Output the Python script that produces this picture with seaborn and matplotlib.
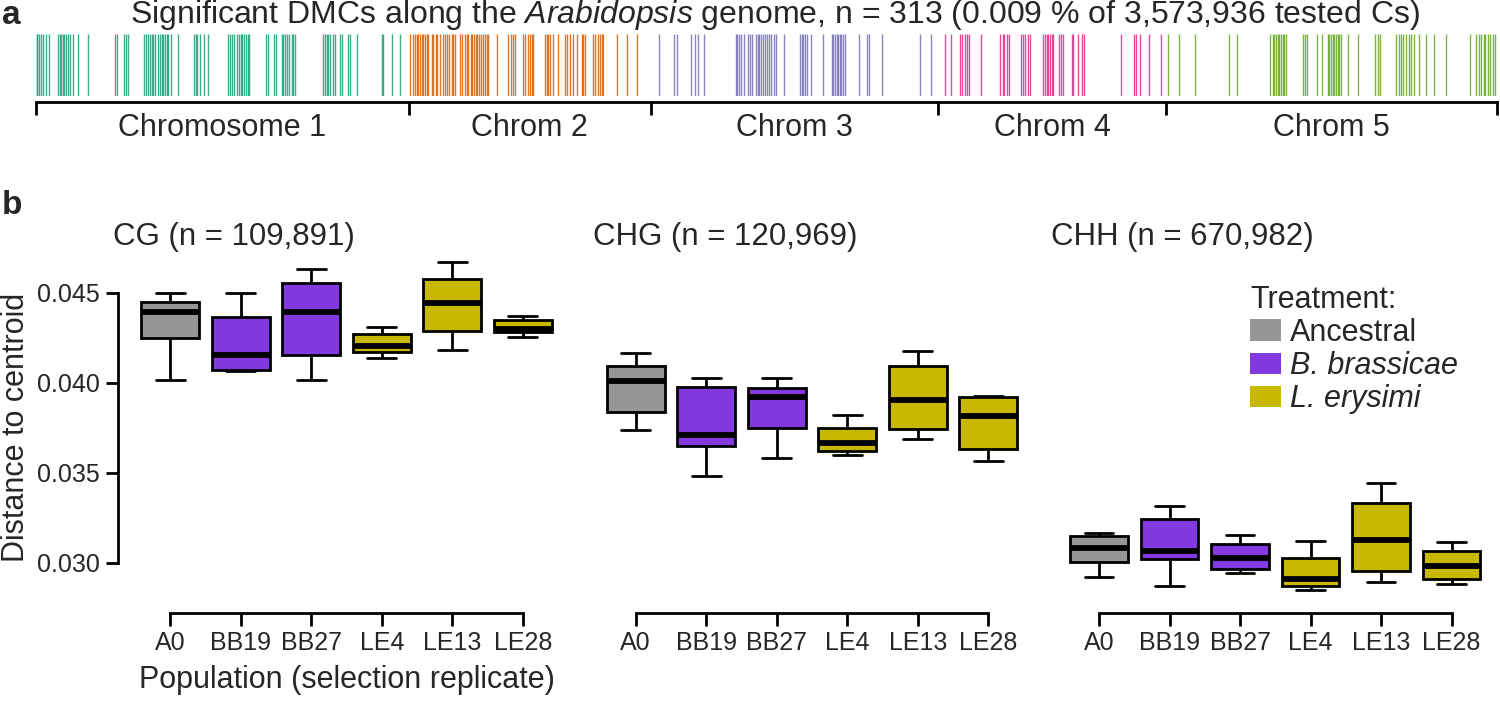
import numpy as np
import pandas as pd
import matplotlib
matplotlib.use('Agg')
import matplotlib.pyplot as plt
import seaborn as sns
from matplotlib.patches import Patch

# ---- panel a: significant DMC positions (Mb from chromosome start) ----
chrom_names = ['Chromosome 1', 'Chrom 2', 'Chrom 3', 'Chrom 4', 'Chrom 5']
chrom_len = [30.43, 19.70, 23.46, 18.59, 26.98]

chr1_mb = [0.08, 0.11, 0.27, 0.44, 0.60, 0.79, 1.03, 1.82, 1.96, 2.04, 2.18, 2.31, 2.45,
           2.58, 2.77, 2.99, 3.40, 4.27, 6.44, 6.58, 7.21, 7.34, 7.53, 8.81, 8.94, 9.16,
           9.30, 9.43, 9.57, 9.71, 9.98, 10.11, 10.25, 10.39, 10.52, 10.66, 10.79, 10.98,
           11.61, 12.89, 13.02, 13.10, 13.38, 13.70, 14.06, 15.63, 15.82, 16.01, 16.18,
           16.37, 16.53, 16.69, 16.83, 16.99, 17.13, 17.26, 17.40, 18.73, 18.90, 19.41,
           19.55, 20.04, 20.17, 20.34, 20.50, 20.66, 20.85, 20.99, 21.13, 23.44, 23.57,
           23.71, 23.84, 23.98, 24.25, 24.39, 24.80, 24.93, 25.48, 25.61, 26.16, 28.19,
           28.33, 29.01, 29.69]
chr2_mb = [0.05, 0.29, 0.45, 0.62, 0.75, 0.89, 1.03, 1.16, 1.30, 1.43, 1.57, 1.84, 1.98,
           2.17, 2.30, 2.52, 2.74, 2.93, 3.06, 3.25, 3.47, 3.61, 3.74, 4.15, 4.29, 4.56,
           4.70, 4.83, 5.02, 5.16, 5.29, 5.43, 5.57, 5.70, 5.84, 6.00, 6.19, 6.33, 6.46,
           7.20, 8.09, 8.28, 8.50, 8.64, 9.32, 9.45, 9.72, 9.86, 10.00, 10.13, 11.08,
           11.22, 11.36, 11.49, 11.76, 12.17, 12.72, 12.85, 13.12, 13.40, 13.67, 14.08,
           14.21, 14.35, 15.03, 15.16, 15.43, 15.57, 15.70, 15.84, 16.93, 17.75, 18.56]
chr3_mb = [0.69, 1.89, 2.15, 3.29, 3.61, 3.88, 4.33, 6.93, 7.06, 7.19, 7.41, 7.59, 7.94,
           8.07, 8.26, 8.57, 8.73, 8.84, 9.00, 9.13, 9.32, 9.45, 9.64, 9.85, 10.06, 10.25,
           10.86, 12.18, 12.32, 12.45, 12.63, 12.77, 13.09, 14.09, 14.76, 14.89, 15.02,
           15.16, 15.29, 15.42, 15.55, 15.68, 15.82, 17.01, 17.68, 17.81, 18.87, 22.00,
           22.85]
chr4_mb = [0.52, 1.01, 1.78, 1.97, 2.17, 2.33, 2.52, 3.48, 5.07, 5.26, 5.40, 5.59, 5.73,
           6.77, 6.91, 7.04, 7.32, 7.46, 8.55, 8.69, 8.83, 8.96, 9.10, 9.24, 9.38, 9.84,
           10.01, 10.20, 10.88, 11.02, 11.43, 11.76, 11.92, 14.94, 15.95, 16.09, 16.42,
           17.19, 18.15]
chr5_mb = [0.11, 1.06, 2.37, 5.14, 5.74, 8.46, 8.68, 8.82, 8.95, 9.09, 9.22, 9.36, 9.50,
           9.63, 9.77, 11.18, 11.32, 11.46, 12.27, 12.71, 13.17, 13.31, 13.44, 13.58,
           13.71, 13.85, 13.99, 14.12, 14.26, 14.80, 15.62, 17.06, 17.25, 17.44, 18.75,
           18.97, 19.16, 19.35, 19.56, 19.78, 19.97, 20.24, 20.60, 21.20, 21.88, 22.83,
           24.79, 25.28, 25.50, 25.69, 25.88, 26.04, 26.23, 26.42, 26.64, 26.78]

# ---- panel b: box statistics per population (min, q1, median, q3, max) ----
contexts = ['CG', 'CHG', 'CHH']
context_titles = ['CG (n = 109,891)', 'CHG (n = 120,969)', 'CHH (n = 670,982)']
populations = ['A0', 'BB19', 'BB27', 'LE4', 'LE13', 'LE28']
pop_treatment = ['Ancestral', 'B. brassicae', 'B. brassicae', 'L. erysimi', 'L. erysimi', 'L. erysimi']
treatments = ['Ancestral', 'B. brassicae', 'L. erysimi']
treat_colors = ['#969696', '#823ae0', '#c8b800']

cg_vals = [[0.04015, 0.04247, 0.04394, 0.04450, 0.04500],
           [0.04065, 0.04071, 0.04154, 0.04365, 0.04500],
           [0.04015, 0.04156, 0.04391, 0.04556, 0.04630],
           [0.04136, 0.04171, 0.04206, 0.04271, 0.04311],
           [0.04183, 0.04289, 0.04441, 0.04578, 0.04672],
           [0.04254, 0.04282, 0.04298, 0.04347, 0.04369]]
chg_vals = [[0.03736, 0.03837, 0.04011, 0.04091, 0.04167],
            [0.03483, 0.03648, 0.03709, 0.03976, 0.04028],
            [0.03582, 0.03748, 0.03919, 0.03972, 0.04024],
            [0.03597, 0.03622, 0.03663, 0.03748, 0.03821],
            [0.03689, 0.03744, 0.03904, 0.04091, 0.04178],
            [0.03567, 0.03633, 0.03815, 0.03920, 0.03924]]
chh_vals = [[0.02920, 0.03002, 0.03083, 0.03150, 0.03163],
            [0.02872, 0.03019, 0.03065, 0.03244, 0.03313],
            [0.02944, 0.02963, 0.03024, 0.03106, 0.03154],
            [0.02847, 0.02869, 0.02909, 0.03026, 0.03120],
            [0.02891, 0.02956, 0.03126, 0.03332, 0.03443],
            [0.02880, 0.02909, 0.02983, 0.03065, 0.03117]]

# ---- build tables ----
chrom_start = np.concatenate([[0], np.cumsum(chrom_len)[:-1]])
rows = []
for name, start, pos in zip(chrom_names, chrom_start, [chr1_mb, chr2_mb, chr3_mb, chr4_mb, chr5_mb]):
    for p in pos:
        rows.append({'chrom': name, 'pos': start + p})
dmc = pd.DataFrame(rows)

rows = []
for ctx, vals in zip(contexts, [cg_vals, chg_vals, chh_vals]):
    for pop, tr, v in zip(populations, pop_treatment, vals):
        for x in v:
            rows.append({'context': ctx, 'population': pop, 'treatment': tr, 'value': x})
dist = pd.DataFrame(rows)

sns.set_theme(style='white')
plt.rcParams['font.family'] = ['Liberation Sans', 'DejaVu Sans']
plt.rcParams['mathtext.fontset'] = 'custom'
plt.rcParams['mathtext.rm'] = 'Liberation Sans'
plt.rcParams['mathtext.it'] = 'Liberation Sans:italic'

W, H = 1500, 701
fig = plt.figure(figsize=(15, 7.01), dpi=100)


def rect(l, t, r, b):
    # pixel box -> figure fraction
    return [l / W, 1 - b / H, (r - l) / W, (b - t) / H]


# ---- panel a ----
ax_a = fig.add_axes(rect(36, 34, 1497, 96))
sns.rugplot(data=dmc, x='pos', hue='chrom', palette='Dark2', height=1, lw=1.4,
            alpha=0.85, expand_margins=False, legend=False, ax=ax_a)
total = sum(chrom_len)
ax_a.set_xlim(0, total)
ax_a.set_ylim(0, 1)
for s in ['top', 'right', 'left']:
    ax_a.spines[s].set_visible(False)
ax_a.spines['bottom'].set_position(('outward', 4))
ax_a.spines['bottom'].set_linewidth(2.0)
ax_a.spines['bottom'].set_color('black')
ax_a.set_xticks(list(chrom_start) + [total])
ax_a.set_xticklabels([])
ax_a.set_yticks([])
ax_a.set_xlabel('')
ax_a.set_ylabel('')
ax_a.tick_params(axis='x', bottom=True, direction='out', length=9, width=2.0, color='black')
for name, start, ln in zip(chrom_names, chrom_start, chrom_len):
    ax_a.text(start + ln / 2, -0.52, name, transform=ax_a.get_xaxis_transform(),
              ha='center', va='center', fontsize=22)

fig.text(775 / W, 1 - 15 / H,
         'Significant DMCs along the $\\mathit{Arabidopsis}$ genome, n = 313 '
         '(0.009 % of 3,573,936 tested Cs)',
         ha='center', va='center', fontsize=23)
fig.text(2 / W, 1 - 16 / H, 'a', ha='left', va='center', fontsize=24, fontweight='bold')
fig.text(2 / W, 1 - 205 / H, 'b', ha='left', va='center', fontsize=24, fontweight='bold')

# ---- panel b ----
tick0 = [170.4, 635.7, 1099.0]
title_x = [113, 593, 1051]
step = 70.5
px_per_unit = 18000.0
y045 = 292.7
top_px, bot_px = 253.0, 613.0
ylim = (0.045 - (bot_px - y045) / px_per_unit, 0.045 + (y045 - top_px) / px_per_unit)

for i, ctx in enumerate(contexts):
    l = tick0[i] - 0.744 * step
    r = tick0[i] + 5.6 * step
    ax = fig.add_axes(rect(l, top_px, r, bot_px))
    sub = dist[dist['context'] == ctx]
    sns.boxplot(data=sub, x='population', y='value', hue='treatment', order=populations,
                hue_order=treatments, palette=treat_colors, dodge=False, width=0.82,
                whis=(0, 100), saturation=1, linewidth=2.0, linecolor='black',
                medianprops={'linewidth': 4.2}, legend=False, ax=ax)
    ax.set_xlim(-0.744, 5.6)
    ax.set_ylim(*ylim)
    ax.set_xlabel('')
    ax.set_ylabel('')
    for s in ['top', 'right']:
        ax.spines[s].set_visible(False)
    ax.spines['bottom'].set_bounds(0, 5)
    ax.spines['bottom'].set_linewidth(2.0)
    ax.spines['bottom'].set_color('black')
    ax.tick_params(axis='x', bottom=True, direction='out', length=9, width=2.0,
                   color='black', labelsize=18, pad=4)
    if i == 0:
        ax.spines['left'].set_bounds(0.030, 0.045)
        ax.spines['left'].set_linewidth(2.0)
        ax.spines['left'].set_color('black')
        ax.set_yticks([0.030, 0.035, 0.040, 0.045])
        ax.set_yticklabels(['0.030', '0.035', '0.040', '0.045'])
        ax.tick_params(axis='y', left=True, direction='out', length=9, width=2.0,
                       color='black', labelsize=18, pad=4)
    else:
        ax.spines['left'].set_visible(False)
        ax.set_yticks([])
    fig.text(title_x[i] / W, 1 - 237 / H, context_titles[i],
             ha='left', va='center', fontsize=22.5)

fig.text(16 / W, 1 - 427 / H, 'Distance to centroid', rotation=90,
         ha='center', va='center', fontsize=22)
fig.text(347 / W, 1 - 680 / H, 'Population (selection replicate)',
         ha='center', va='center', fontsize=22)

handles = [Patch(facecolor=c, edgecolor='none') for c in treat_colors]
leg = fig.legend(handles, treatments, title='Treatment:', loc='upper left',
                 bbox_to_anchor=(1250 / W, 1 - 285 / H), frameon=False, fontsize=22,
                 title_fontsize=22, handlelength=1.0, handleheight=0.72,
                 handletextpad=0.3, labelspacing=0.1, borderpad=0, borderaxespad=0,
                 alignment='left')
for t in leg.get_texts()[1:]:
    t.set_style('italic')

fig.savefig('out.png', dpi=100)
